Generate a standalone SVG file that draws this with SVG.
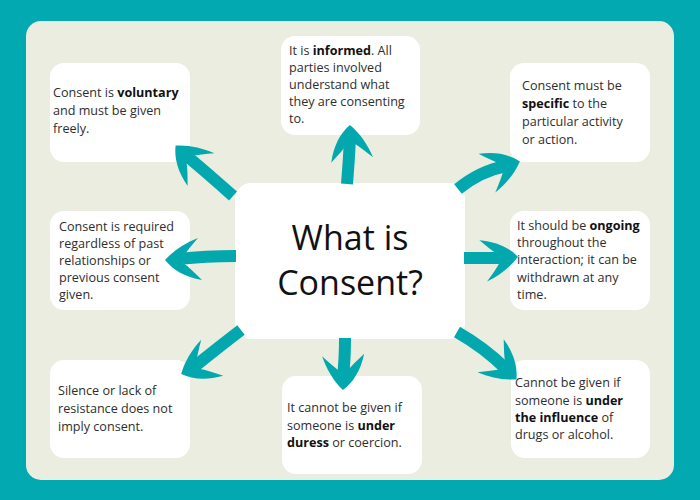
<svg xmlns="http://www.w3.org/2000/svg" width="700" height="500" viewBox="0 0 700 500">
<style>
.box{fill:#ffffff}
.t{font-family:"Open Sans","Noto Sans",sans-serif;font-size:12.6px;fill:#2e2e2e}
.b{font-weight:bold;fill:#111}
.title{font-family:"Open Sans","Noto Sans",sans-serif;font-size:34px;fill:#111;text-anchor:middle}
.shaft{fill:none;stroke:#03a8ae;stroke-width:12;stroke-linecap:butt}
.head{fill:#03a8ae}
</style>
<defs>
<path id="hd" d="M2,0 C-6,-10 -18,-17 -35,-20 C-28,-13 -22,-7 -16,-3 L-16,3 C-20,9 -25,15 -31,22 C-18,17 -7,10 2,0 Z"/>
</defs>
<rect width="700" height="500" fill="#02a9b0"/>
<rect x="26" y="21" width="648" height="459" rx="15" fill="#ebede0"/>

<g id="center">
<rect class="box" x="235" y="183" width="230" height="156" rx="16"/>
<text class="title" x="350" y="250">What is</text>
<text class="title" x="350" y="295">Consent?</text>
</g>

<g id="voluntary">
<rect class="box" x="50" y="63" width="140" height="99" rx="14"/>
<text class="t" x="53" y="97">Consent is <tspan class="b">voluntary</tspan></text>
<text class="t" x="53" y="115">and must be given</text>
<text class="t" x="53" y="133">freely.</text>
</g>

<g id="informed">
<rect class="box" x="281" y="36" width="139" height="99" rx="14"/>
<text class="t" x="289" y="55">It is <tspan class="b">informed</tspan>. All</text>
<text class="t" x="289" y="72">parties involved</text>
<text class="t" x="289" y="89">understand what</text>
<text class="t" x="289" y="106">they are consenting</text>
<text class="t" x="289" y="123">to.</text>
</g>

<g id="specific">
<rect class="box" x="510" y="63" width="140" height="99" rx="14"/>
<text class="t" x="522" y="90">Consent must be</text>
<text class="t" x="522" y="108"><tspan class="b">specific</tspan> to the</text>
<text class="t" x="522" y="126">particular activity</text>
<text class="t" x="522" y="144">or action.</text>
</g>

<g id="required">
<rect class="box" x="50" y="211" width="140" height="99" rx="14"/>
<text class="t" x="59" y="231">Consent is required</text>
<text class="t" x="59" y="248">regardless of past</text>
<text class="t" x="59" y="265">relationships or</text>
<text class="t" x="59" y="282">previous consent</text>
<text class="t" x="59" y="299">given.</text>
</g>

<g id="ongoing">
<rect class="box" x="510" y="211" width="140" height="99" rx="14"/>
<text class="t" x="517" y="230">It should be <tspan class="b">ongoing</tspan></text>
<text class="t" x="517" y="247">throughout the</text>
<text class="t" x="517" y="264">interaction; it can be</text>
<text class="t" x="517" y="282">withdrawn at any</text>
<text class="t" x="517" y="299">time.</text>
</g>

<g id="silence">
<rect class="box" x="50" y="360" width="140" height="98" rx="14"/>
<text class="t" x="58" y="395">Silence or lack of</text>
<text class="t" x="58" y="413">resistance does not</text>
<text class="t" x="58" y="431">imply consent.</text>
</g>

<g id="duress">
<rect class="box" x="282" y="376" width="140" height="98" rx="14"/>
<text class="t" x="287" y="412">It cannot be given if</text>
<text class="t" x="287" y="430">someone is <tspan class="b">under</tspan></text>
<text class="t" x="287" y="447"><tspan class="b">duress</tspan> or coercion.</text>
</g>

<g id="influence">
<rect class="box" x="511" y="360" width="139" height="98" rx="14"/>
<text class="t" x="515" y="387">Cannot be given if</text>
<text class="t" x="515" y="405">someone is <tspan class="b">under</tspan></text>
<text class="t" x="515" y="422"><tspan class="b">the influence</tspan> of</text>
<text class="t" x="515" y="439">drugs or alcohol.</text>
</g>

<g id="connectors">
<path class="shaft" d="M233,196 Q206,172 188,157"/>
<use href="#hd" class="head" transform="translate(177,147) rotate(-135)"/>
<path class="shaft" d="M347,184 Q349,160 350,138"/>
<use href="#hd" class="head" transform="translate(350,127) rotate(-92)"/>
<path class="shaft" d="M458,189 Q480,171 506,166"/>
<use href="#hd" class="head" transform="translate(518,162) rotate(-18)"/>
<path class="shaft" d="M236,256 Q205,256 179,259"/>
<use href="#hd" class="head" transform="translate(167,260) rotate(180)"/>
<path class="shaft" d="M464,258 L505,258"/>
<use href="#hd" class="head" transform="translate(516,257) rotate(-5)"/>
<path class="shaft" d="M241,330 Q215,350 194,367"/>
<use href="#hd" class="head" transform="translate(183,373) rotate(154)"/>
<path class="shaft" d="M345,338 Q345,360 343,376"/>
<use href="#hd" class="head" transform="translate(343,388) rotate(92)"/>
<path class="shaft" d="M457,332 Q485,348 506,369"/>
<use href="#hd" class="head" transform="translate(515,378) rotate(44)"/>
</g>
</svg>
